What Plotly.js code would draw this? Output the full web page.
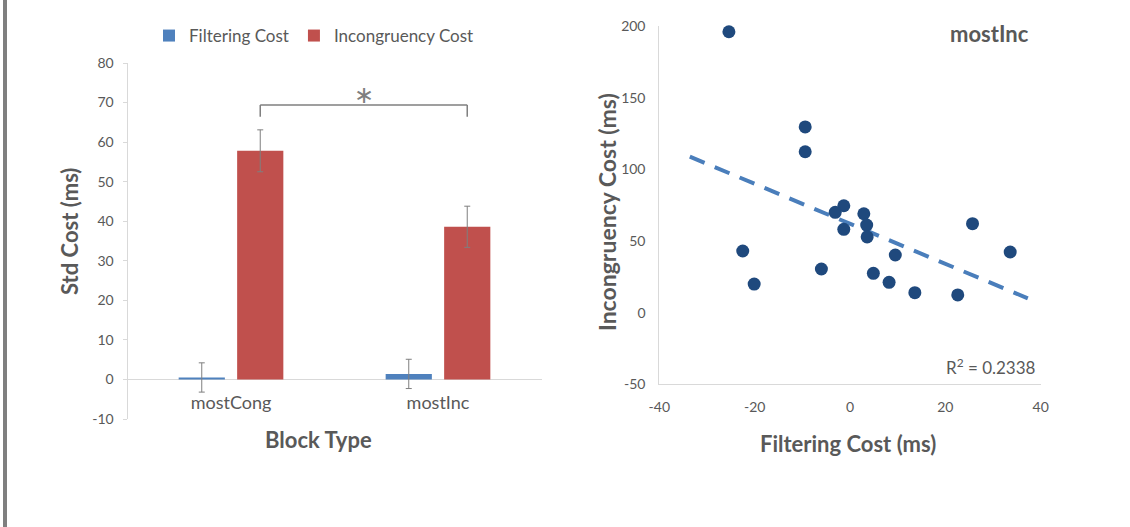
<!DOCTYPE html>
<html>
<head>
<meta charset="utf-8">
<script src="https://cdn.plot.ly/plotly-3.0.1.min.js"></script>
<style>html,body{margin:0;padding:0;background:#fff;} #chart{width:1130px;height:527px;}</style>
</head>
<body>
<div id="chart"></div>
<script>
// ---- Left chart data (bar chart) ----
var blockTypes = ['mostCong', 'mostInc'];
var filteringCost = [0.5, 1.4];
var filteringErr = [3.7, 3.7];
var incongruencyCost = [57.8, 38.6];
var incongruencyErr = [5.3, 5.2];
var leftYTicks = [-10, 0, 10, 20, 30, 40, 50, 60, 70, 80];
var leftYTickText = ['-10', '0', '10', '20', '30', '40', '50', '60', '70', '80'];

// ---- Right chart data (scatter, mostInc) ----
var scatterFiltering = [-25.4, -9.4, -9.4, -1.3, -3.1, 2.9, 3.5, -1.3, 3.6, 25.7, -22.5, 33.6, 9.5, -6.0, 4.9, 8.2, -20.1, 13.6, 22.6];
var scatterIncongruency = [196.2, 129.7, 112.4, 74.7, 70.1, 69.1, 61.2, 58.2, 52.9, 62.2, 43.1, 42.4, 40.3, 30.5, 27.5, 21.2, 20.0, 14.0, 12.4];
var trendX = [-33.6, 37.3];
var trendY = [109.0, 10.0];
var rSquared = '0.2338';
var rightXTicks = [-40, -20, 0, 20, 40];
var rightXTickText = ['-40', '-20', '0', '20', '40'];
var rightYTicks = [-50, 0, 50, 100, 150, 200];
var rightYTickText = ['-50', '0', '50', '100', '150', '200'];

var W = 1130, H = 527;
function px(x){ return x / W; }
function py(y){ return 1 - y / H; }

var FONT = 'Lato, "Open Sans", sans-serif';
var TXT = '#595959';
var AX = '#d9d9d9';

var bargap = 0.435;
var redOffset = (1 - bargap) / 4;

var traces = [
  {
    type: 'bar', name: 'Filtering Cost', x: blockTypes, y: filteringCost,
    marker: {color: '#4f81bd'},
    error_y: {type: 'data', array: filteringErr, visible: true, color: '#7f7f7f', thickness: 1, width: 3},
    xaxis: 'x', yaxis: 'y', hoverinfo: 'skip'
  },
  {
    type: 'bar', name: 'Incongruency Cost', x: blockTypes, y: incongruencyCost,
    marker: {color: '#c0504d'},
    error_y: {type: 'data', array: incongruencyErr, visible: true, color: '#7f7f7f', thickness: 1, width: 3},
    xaxis: 'x', yaxis: 'y', hoverinfo: 'skip'
  },
  {
    type: 'scatter', mode: 'lines', x: trendX, y: trendY, showlegend: false,
    line: {color: '#4a7ebb', width: 4, dash: '16px,11px'},
    xaxis: 'x2', yaxis: 'y2', hoverinfo: 'skip'
  },
  {
    type: 'scatter', mode: 'markers', x: scatterFiltering, y: scatterIncongruency, showlegend: false,
    marker: {color: '#1f497d', size: 13}, cliponaxis: false,
    xaxis: 'x2', yaxis: 'y2', hoverinfo: 'skip'
  }
];

var layout = {
  width: W, height: H,
  margin: {l: 0, r: 0, t: 0, b: 0},
  paper_bgcolor: '#ffffff', plot_bgcolor: 'rgba(0,0,0,0)',
  font: {family: FONT, color: TXT},
  barmode: 'group', bargap: bargap, bargroupgap: 0.21,
  showlegend: true,
  legend: {
    orientation: 'h', x: px(149), y: py(18), xanchor: 'left', yanchor: 'top',
    font: {family: FONT, size: 17, color: TXT}, itemwidth: 30, bgcolor: 'rgba(0,0,0,0)'
  },
  xaxis: {
    domain: [px(127.5), px(541.5)], anchor: 'free', position: py(380),
    type: 'category', range: [-0.5, 1.5],
    showline: false, ticks: '', showgrid: false, zeroline: false,
    tickfont: {family: FONT, size: 18, color: TXT}, ticklabelstandoff: 10
  },
  yaxis: {
    domain: [py(419), py(63)], anchor: 'x', range: [-10, 80],
    tickmode: 'array', tickvals: leftYTicks, ticktext: leftYTickText,
    showline: true, linecolor: AX, linewidth: 1,
    ticks: 'outside', ticklen: 4, tickcolor: AX,
    showgrid: false, zeroline: true, zerolinecolor: AX, zerolinewidth: 1.5,
    tickfont: {family: FONT, size: 14, color: TXT}, ticklabelstandoff: 6
  },
  xaxis2: {
    domain: [px(659.3), px(1040.7)], anchor: 'y2', range: [-40, 40],
    tickmode: 'array', tickvals: rightXTicks, ticktext: rightXTickText,
    showline: true, linecolor: AX, linewidth: 1, ticks: '', showgrid: false, zeroline: false,
    tickfont: {family: FONT, size: 14, color: TXT}, ticklabelstandoff: 10
  },
  yaxis2: {
    domain: [py(384.3), py(26.3)], anchor: 'x2', range: [-50, 200],
    tickmode: 'array', tickvals: rightYTicks, ticktext: rightYTickText,
    showline: true, linecolor: AX, linewidth: 1, ticks: '', showgrid: false, zeroline: false,
    tickfont: {family: FONT, size: 14, color: TXT}, ticklabelstandoff: 10
  },
  shapes: [
    {type: 'rect', xref: 'paper', yref: 'paper', x0: px(3), x1: px(7), y0: 0, y1: 1, fillcolor: '#7f7f7f', line: {width: 0}},
    {type: 'line', xref: 'x', yref: 'y', x0: redOffset, x1: redOffset, y0: 66.4, y1: 69.4, line: {color: '#7f7f7f', width: 1.5}},
    {type: 'line', xref: 'x', yref: 'y', x0: redOffset, x1: 1 + redOffset, y0: 69.4, y1: 69.4, line: {color: '#7f7f7f', width: 1.5}},
    {type: 'line', xref: 'x', yref: 'y', x0: 1 + redOffset, x1: 1 + redOffset, y0: 66.4, y1: 69.4, line: {color: '#7f7f7f', width: 1.5}}
  ],
  annotations: [
    {xref: 'x', yref: 'paper', x: 0.5 + redOffset, y: py(95), text: '\u2217', showarrow: false, xanchor: 'center', yanchor: 'middle',
     font: {family: '"DejaVu Sans", sans-serif', size: 24, color: '#7f7f7f'}},
    {xref: 'paper', yref: 'paper', x: px(70), y: py(232), text: '<b>Std Cost (ms)</b>', textangle: -90, showarrow: false,
     xanchor: 'center', yanchor: 'middle', font: {family: FONT, size: 22, color: TXT}},
    {xref: 'paper', yref: 'paper', x: px(318), y: py(439), text: '<b>Block Type</b>', showarrow: false,
     xanchor: 'center', yanchor: 'middle', font: {family: FONT, size: 22, color: TXT}},
    {xref: 'paper', yref: 'paper', x: px(607), y: py(212), text: '<b>Incongruency Cost (ms)</b>', textangle: -90, showarrow: false,
     xanchor: 'center', yanchor: 'middle', font: {family: FONT, size: 23, color: TXT}},
    {xref: 'paper', yref: 'paper', x: px(848), y: py(443), text: '<b>Filtering Cost (ms)</b>', showarrow: false,
     xanchor: 'center', yanchor: 'middle', font: {family: FONT, size: 22, color: TXT}},
    {xref: 'paper', yref: 'paper', x: px(989), y: py(33), text: '<b>mostInc</b>', showarrow: false,
     xanchor: 'center', yanchor: 'middle', font: {family: FONT, size: 22, color: TXT}},
    {xref: 'paper', yref: 'paper', x: px(1038), y: py(366), text: 'R<sup>2</sup> = ' + rSquared, showarrow: false,
     xanchor: 'right', yanchor: 'middle', font: {family: FONT, size: 17, color: TXT}}
  ]
};

Plotly.newPlot('chart', traces, layout, {staticPlot: true, displayModeBar: false});
</script>
</body>
</html>
